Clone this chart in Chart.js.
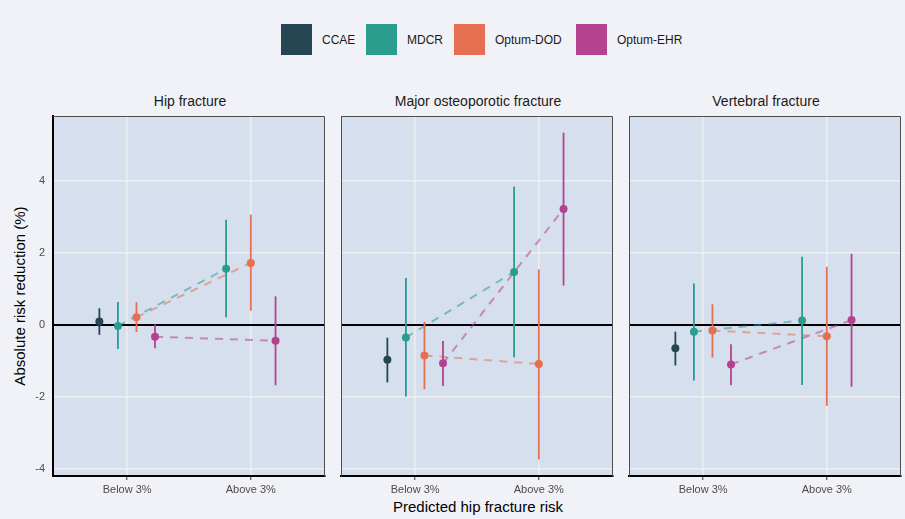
<!DOCTYPE html>
<html>
<head>
<meta charset="utf-8">
<script src="https://cdn.jsdelivr.net/npm/chart.js@4.4.1/dist/chart.umd.min.js"></script>
<style>
  body { margin:0; width:905px; height:519px; background:#f1f2f7; position:relative; overflow:hidden;
         font-family:'Liberation Sans', Arial, sans-serif; color:#1a1a1a; }
  canvas { position:absolute; top:110px; }
  .ptitle { position:absolute; top:93px; width:274px; text-align:center; font-size:14px; line-height:16px; }
  .sw { position:absolute; top:24px; width:31px; height:31px; }
  .lt { position:absolute; top:32px; font-size:12px; line-height:16px; }
</style>
</head>
<body>
<div id="legend"></div>
<div class="ptitle" id="t0" style="left:53px"></div>
<div class="ptitle" id="t1" style="left:341px"></div>
<div class="ptitle" id="t2" style="left:629px"></div>
<div style="position:absolute;left:19px;top:296px;transform:translate(-50%,-50%) rotate(-90deg);white-space:nowrap;font-size:15px;color:#000">Absolute risk reduction (%)</div>
<div style="position:absolute;left:341px;width:274px;top:498px;text-align:center;font-size:15px;line-height:18px;color:#000">Predicted hip fracture risk</div>
<canvas id="c0" width="329" height="400" style="left:0px"></canvas>
<canvas id="c1" width="282" height="400" style="left:335px"></canvas>
<canvas id="c2" width="282" height="400" style="left:623px"></canvas>
<script>
const outcomes = ['Hip fracture', 'Major osteoporotic fracture', 'Vertebral fracture']
const databases = ['CCAE', 'MDCR', 'Optum-DOD', 'Optum-EHR']
const riskGroups = ['Below 3%', 'Above 3%']
const yTicks = [-4, -2, 0, 2, 4]
const colors = ['#264653', '#2a9d8f', '#e76f51', '#b5428f']
const lineColors = ['rgba(38,70,83,0.55)', 'rgba(42,157,143,0.55)', 'rgba(231,111,81,0.55)', 'rgba(181,66,143,0.55)']

// one row per database: [below 3%, above 3%]
const hipEst   = [[0.09, null], [-0.03, 1.56], [0.21, 1.72], [-0.33, -0.44]]
const hipLower = [[-0.28, null], [-0.67, 0.21], [-0.20, 0.39], [-0.65, -1.68]]
const hipUpper = [[0.46, null], [0.63, 2.92], [0.63, 3.06], [0.01, 0.79]]

const majorEst   = [[-0.97, null], [-0.35, 1.47], [-0.85, -1.09], [-1.07, 3.22]]
const majorLower = [[-1.60, null], [-1.99, -0.90], [-1.79, -3.74], [-1.70, 1.09]]
const majorUpper = [[-0.36, null], [1.30, 3.84], [0.08, 1.54], [-0.45, 5.34]]

const vertEst   = [[-0.65, null], [-0.19, 0.12], [-0.16, -0.32], [-1.10, 0.13]]
const vertLower = [[-1.13, null], [-1.55, -1.67], [-0.91, -2.25], [-1.68, -1.72]]
const vertUpper = [[-0.19, null], [1.15, 1.89], [0.57, 1.61], [-0.54, 1.97]]

const panels = [
  { est: hipEst, lo: hipLower, hi: hipUpper },
  { est: majorEst, lo: majorLower, hi: majorUpper },
  { est: vertEst, lo: vertLower, hi: vertUpper }
]

Chart.defaults.font.family = "'Liberation Sans', Arial, sans-serif"

// legend
const legend = document.getElementById('legend')
const swLeft = [281, 366, 454, 576]
databases.forEach((d, i) => {
  legend.innerHTML += `<div class="sw" style="left:${swLeft[i]}px;background:${colors[i]}"></div>` +
    `<div class="lt" style="left:${swLeft[i] + 41}px">${d}</div>`
})
outcomes.forEach((o, i) => document.getElementById('t' + i).innerText = o)

// dodge like ggplot: width 0.6 shared by the groups present at each category
function dodgeX(est, db, g) {
  const present = est.map((r, k) => r[g] != null ? k : -1).filter(k => k >= 0)
  const n = present.length, w = 0.6
  return g + 1 - w / 2 + w / (2 * n) + present.indexOf(db) * w / n
}

const panelBg = {
  id: 'panelBg',
  beforeDraw(chart) {
    const a = chart.chartArea, c = chart.ctx
    c.save(); c.fillStyle = '#d6dfee'; c.fillRect(a.left, a.top, a.right - a.left, a.bottom - a.top); c.restore()
  },
  afterDraw(chart) {
    const a = chart.chartArea, c = chart.ctx
    c.save(); c.strokeStyle = '#4d4d4d'; c.lineWidth = 1
    c.beginPath(); c.moveTo(a.left, a.top + 0.5); c.lineTo(a.right - 0.5, a.top + 0.5); c.lineTo(a.right - 0.5, a.bottom); c.stroke()
    c.restore()
  }
}

function noPad(s) {
  s.paddingTop = 0; s.paddingBottom = 0; s.paddingLeft = 0; s.paddingRight = 0
}

panels.forEach((p, pi) => {
  const datasets = []
  databases.forEach((d, di) => {
    const pts = []
    riskGroups.forEach((g, gi) => {
      if (p.est[di][gi] == null) return
      const x = dodgeX(p.est, di, gi)
      pts.push({ x: x, y: p.est[di][gi] })
      datasets.push({
        data: [{ x: x, y: p.lo[di][gi] }, { x: x, y: p.hi[di][gi] }],
        borderColor: colors[di], borderWidth: 1.8, pointRadius: 0, order: 2
      })
    })
    datasets.push({
      data: pts, borderColor: lineColors[di], borderWidth: 2, borderDash: [8, 7],
      pointRadius: 0, order: 3
    })
    datasets.push({
      data: pts, showLine: false, pointRadius: 4, pointBackgroundColor: colors[di],
      pointBorderWidth: 0, order: 1
    })
  })

  const first = pi === 0
  new Chart(document.getElementById('c' + pi), {
    type: 'line',
    data: { datasets: datasets },
    plugins: [panelBg],
    options: {
      responsive: false, animation: false,
      layout: { padding: { top: 6, right: 2, left: 0, bottom: 0 } },
      plugins: { legend: { display: false }, tooltip: { enabled: false } },
      scales: {
        x: {
          type: 'linear', min: 0.4, max: 2.6,
          afterBuildTicks: s => { s.ticks = riskGroups.map((g, i) => ({ value: i + 1 })) },
          afterFit: s => { s.height = 34; noPad(s) },
          ticks: { callback: v => riskGroups[v - 1], font: { size: 11 }, color: '#4d4d4d', padding: 3, maxRotation: 0, autoSkip: false },
          grid: { color: '#eceef2', lineWidth: 1.5, tickLength: 4, tickColor: '#333', tickWidth: 1 },
          border: { color: '#000', width: 2 }
        },
        y: {
          type: 'linear', min: -4.2, max: 5.8,
          afterBuildTicks: s => { s.ticks = yTicks.map(v => ({ value: v })) },
          afterFit: s => { s.width = first ? 53 : 6; noPad(s) },
          ticks: { display: first, font: { size: 11 }, color: '#4d4d4d', padding: 8 },
          grid: {
            drawTicks: false,
            color: c => c.tick && c.tick.value === 0 ? '#000' : '#eceef2',
            lineWidth: c => c.tick && c.tick.value === 0 ? 2 : 1.5
          },
          border: first ? { color: '#000', width: 2 } : { color: '#4d4d4d', width: 1 }
        }
      }
    }
  })
})
</script>
</body>
</html>
